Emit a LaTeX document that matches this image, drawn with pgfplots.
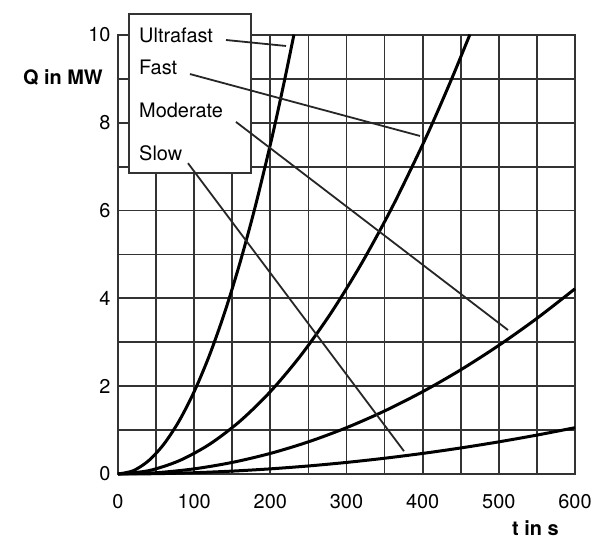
\documentclass[border=0pt]{standalone}
\usepackage{fontspec}
\setmainfont{TeX Gyre Heros}
\usepackage{pgfplots}
\pgfplotsset{compat=1.18}
\begin{document}
\begin{tikzpicture}
\path[use as bounding box] (-118bp,-66bp) rectangle (477bp,474bp);
\begin{axis}[
  at={(0,0)}, anchor=south west,
  scale only axis, width=457bp, height=439bp,
  xmin=0, xmax=600, ymin=0, ymax=10,
  xtick={0,50,100,150,200,250,300,350,400,450,500,550,600},
  xticklabels={0,,100,,200,,300,,400,,500,,600},
  ytick={0,1,2,3,4,5,6,7,8,9,10},
  yticklabels={0,,2,,4,,6,,8,,10},
  grid=major,
  grid style={black!80, line width=1.8bp},
  major grid style={black!80, line width=1.8bp},
  axis line style={black!80, line width=1.8bp},
  tick style={draw=none},
  /pgf/number format/assume math mode=true,
  tick label style={font=\fontsize{20}{24}\selectfont},
  yticklabel style={xshift=-4bp},
  xticklabel style={yshift=-34bp, anchor=base},
  clip=false,
]
\addplot[black, line width=3bp, smooth] coordinates {
 (0,0) (20,0.075) (40,0.300) (60,0.675) (80,1.201) (100,1.876) (120,2.701) (140,3.677) (160,4.803) (180,6.078) (200,7.504) (210,8.273) (220,9.080) (230,9.924) (230.9,10.0)};
\addplot[black, line width=3bp, smooth] coordinates {
 (0,0) (40,0.075) (80,0.300) (120,0.675) (160,1.201) (200,1.876) (240,2.701) (280,3.677) (320,4.803) (360,6.078) (400,7.504) (420,8.273) (440,9.080) (460,9.924) (461.8,10.0)};
\addplot[black, line width=3bp, smooth] coordinates {
 (0,0) (50,0.0293) (100,0.1172) (150,0.2637) (200,0.4688) (250,0.7325) (300,1.0548) (350,1.4357) (400,1.8752) (450,2.3733) (500,2.930) (550,3.5453) (600,4.2192)};
\addplot[black, line width=3bp, smooth] coordinates {
 (0,0) (50,0.0073) (100,0.0293) (150,0.0659) (200,0.1172) (250,0.1831) (300,0.2637) (350,0.3589) (400,0.4688) (450,0.5933) (500,0.7325) (550,0.8863) (600,1.0548)};
\draw[black!80, line width=1.8bp, fill=white] (axis cs:14.4,6.86) rectangle (axis cs:174.6,10.48);
\begin{scope}[every node/.style={anchor=west, inner sep=0pt, font=\fontsize{20}{24}\selectfont}]
\node at (axis cs:27.6,10.0) {Ultrafast};
\node at (axis cs:27.6,9.27) {Fast};
\node at (axis cs:27.6,8.29) {Moderate};
\node at (axis cs:27.6,7.31) {Slow};
\end{scope}
\draw[black!85, line width=1.8bp] (axis cs:141.8,9.886) -- (axis cs:220.6,9.75);
\draw[black!85, line width=1.8bp] (axis cs:94.5,9.11) -- (axis cs:396.5,7.70);
\draw[black!85, line width=1.8bp] (axis cs:154.9,8.02) -- (axis cs:512,3.28);
\draw[black!85, line width=1.8bp] (axis cs:91.9,7.08) -- (axis cs:375.5,0.52);
\node[anchor=east, inner sep=0pt, font=\fontsize{20}{24}\selectfont\bfseries] at ([xshift=-15bp]axis cs:0,9.04) {Q in MW};
\node[inner sep=0pt, font=\fontsize{20}{24}\selectfont\bfseries] at ([yshift=-54bp]axis cs:548,0) {t in s};
\end{axis}
\end{tikzpicture}
\end{document}
